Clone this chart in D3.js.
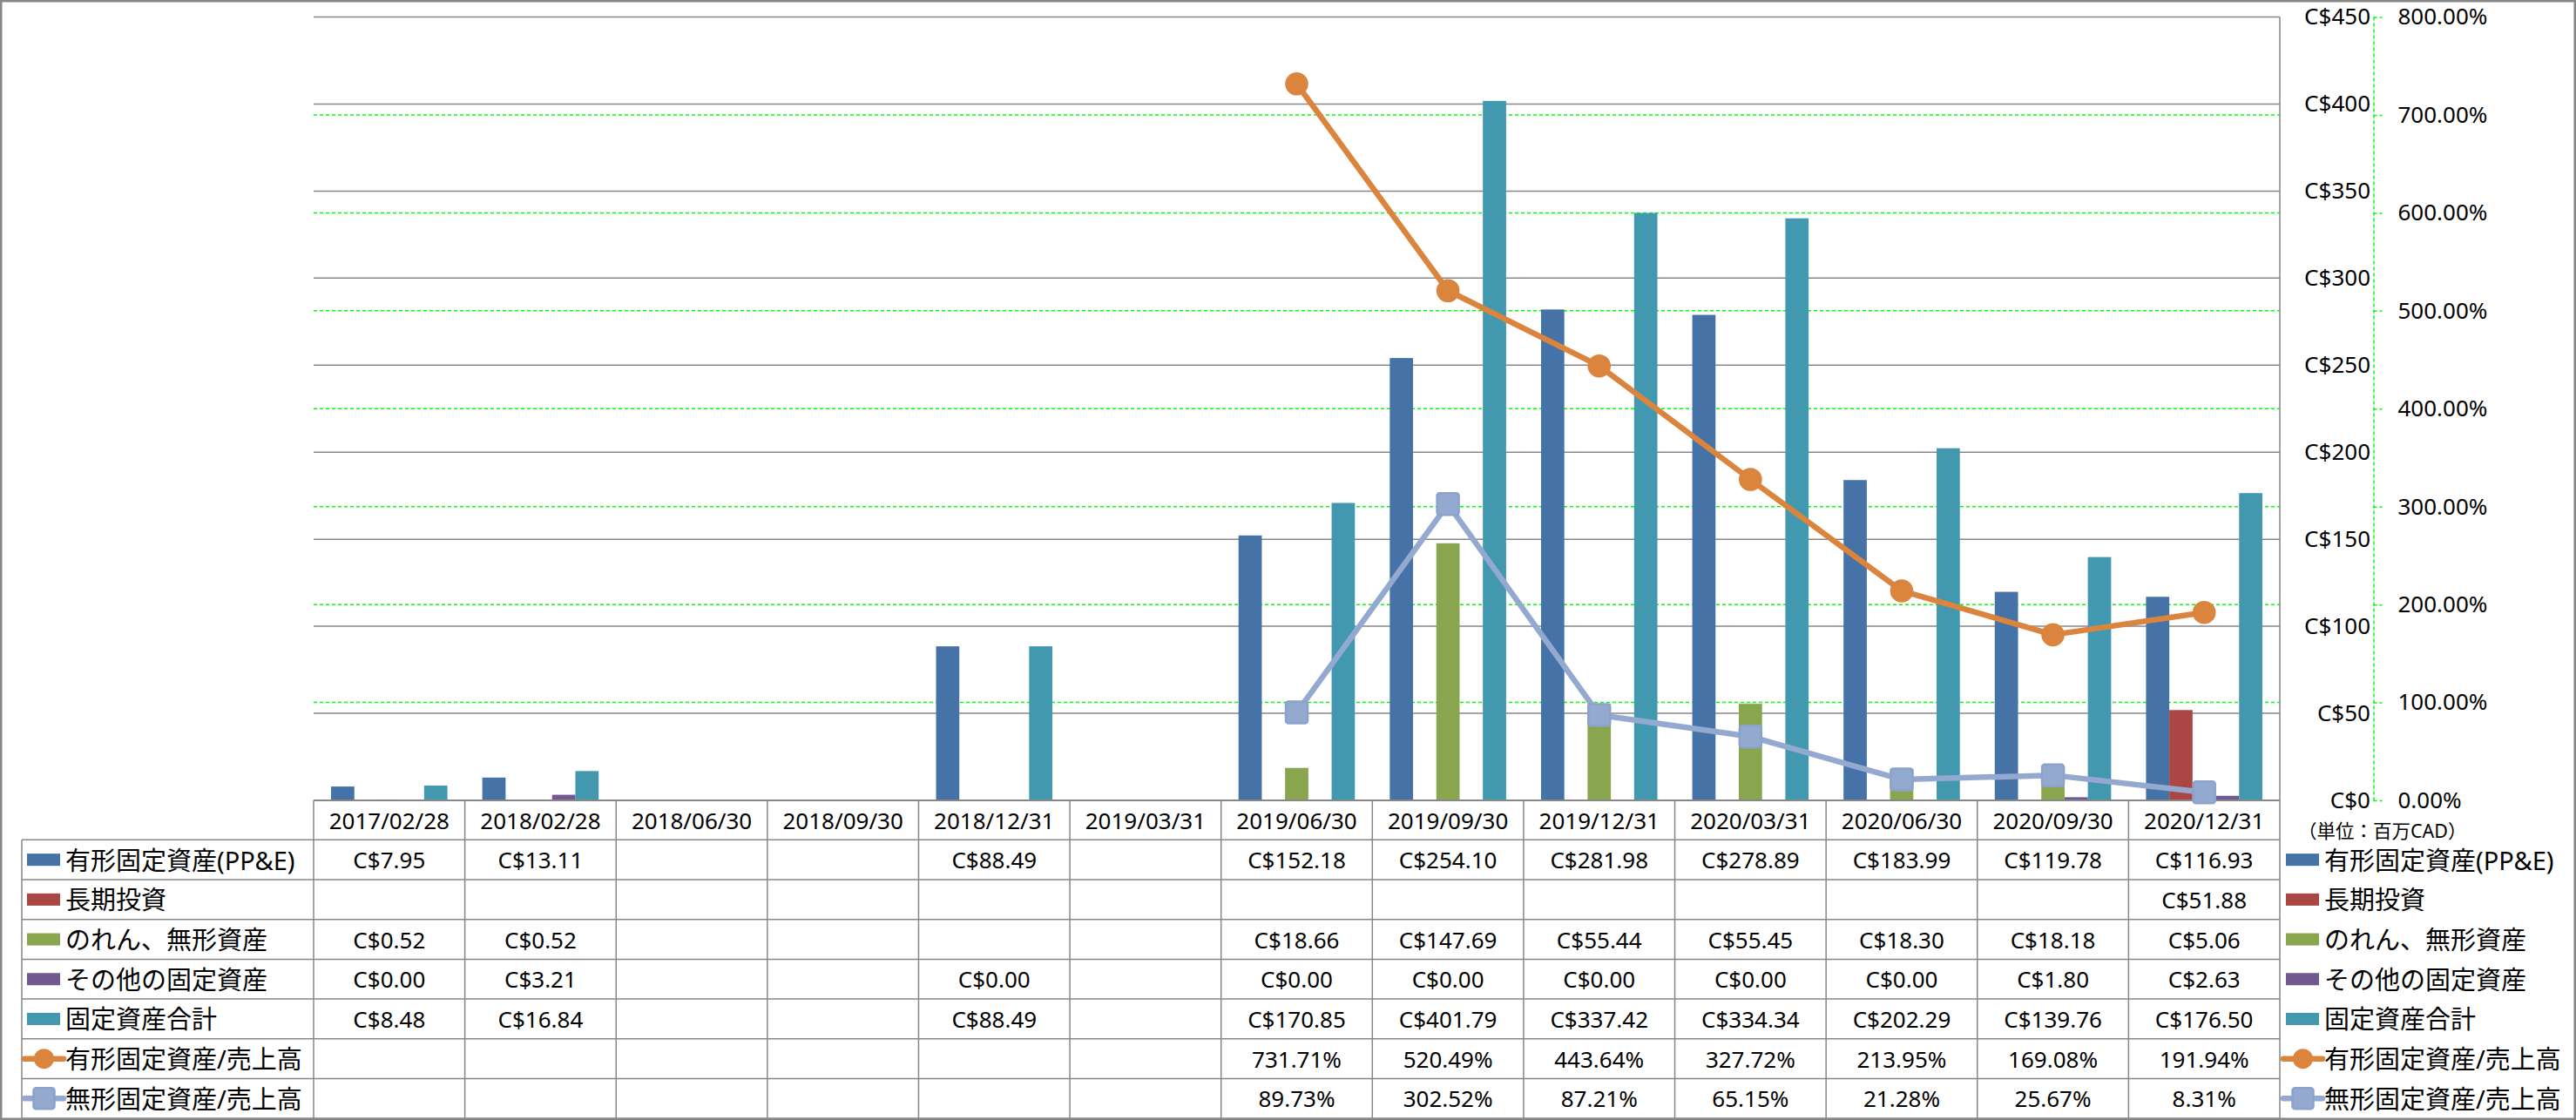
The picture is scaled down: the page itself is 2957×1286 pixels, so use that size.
<!DOCTYPE html>
<html><head><meta charset="utf-8">
<script src="https://cdn.jsdelivr.net/npm/d3@7"></script>
<style>
body{margin:0;background:#fff}
text{font-family:"Noto Sans","Noto Sans CJK JP",sans-serif;fill:#000}
</style>
</head><body>
<svg id="c" width="2957" height="1286"></svg>
<script>
// ---- data ----
const categories = ["2017/02/28","2018/02/28","2018/06/30","2018/09/30","2018/12/31","2019/03/31","2019/06/30","2019/09/30","2019/12/31","2020/03/31","2020/06/30","2020/09/30","2020/12/31"];
const ppe        = [7.95, 13.11, null, null, 88.49, null, 152.18, 254.10, 281.98, 278.89, 183.99, 119.78, 116.93];
const ltInvest   = [null, null, null, null, null, null, null, null, null, null, null, null, 51.88];
const goodwill   = [0.52, 0.52, null, null, null, null, 18.66, 147.69, 55.44, 55.45, 18.30, 18.18, 5.06];
const otherFixed = [0.00, 3.21, null, null, 0.00, null, 0.00, 0.00, 0.00, 0.00, 0.00, 1.80, 2.63];
const totalFixed = [8.48, 16.84, null, null, 88.49, null, 170.85, 401.79, 337.42, 334.34, 202.29, 139.76, 176.50];
const ppeRatio        = [null, null, null, null, null, null, 731.71, 520.49, 443.64, 327.72, 213.95, 169.08, 191.94];
const intangibleRatio = [null, null, null, null, null, null, 89.73, 302.52, 87.21, 65.15, 21.28, 25.67, 8.31];
const barNames  = ["有形固定資産(PP&E)","長期投資","のれん、無形資産","その他の固定資産","固定資産合計"];
const lineNames = ["有形固定資産/売上高","無形固定資産/売上高"];
const leftTicks  = [0,50,100,150,200,250,300,350,400,450];
const rightTicks = [0,100,200,300,400,500,600,700,800];
const unitLabel = "（単位：百万CAD）";

// ---- style ----
const barColors  = ["#4572A7","#AA4643","#89A54E","#71588F","#4198AF"];
const lineColors = ["#DB843D","#93A9CF"];
const gridGray = "#878787";
const green = "#00FF00";

const barSeries = [ppe, ltInvest, goodwill, otherFixed, totalFixed];
const lineSeries = [ppeRatio, intangibleRatio];

const svg = d3.select("#c");
const W = 2957, H = 1286;
const plotL = 360, plotR = 2617, plotT = 19.5, plotB = 919;

const x = d3.scaleBand().domain(categories).range([plotL, plotR]);
const bw = x.bandwidth();
const gw = bw / 1.3;
const x1 = d3.scaleBand().domain(d3.range(barSeries.length)).range([(bw - gw) / 2, (bw + gw) / 2]);
const y = d3.scaleLinear().domain([0, 450]).range([plotB, plotT]);
const y2 = d3.scaleLinear().domain([0, 800]).range([plotB, plotT]);

// outer border
svg.append("rect").attr("x",1.25).attr("y",1.25).attr("width",W-2.5).attr("height",H-2.5)
  .attr("fill","none").attr("stroke",gridGray).attr("stroke-width",2.5);

// green dashed secondary gridlines
svg.append("g").selectAll("line").data(rightTicks.filter(t=>t>0 && t<800)).join("line")
  .attr("x1",plotL).attr("x2",plotR).attr("y1",d=>y2(d)).attr("y2",d=>y2(d))
  .attr("stroke",green).attr("stroke-width",1.5).attr("stroke-dasharray","4,3");

// gray primary gridlines
svg.append("g").selectAll("line").data(leftTicks.filter(t=>t>0)).join("line")
  .attr("x1",plotL).attr("x2",plotR).attr("y1",d=>y(d)).attr("y2",d=>y(d))
  .attr("stroke",gridGray).attr("stroke-width",1.5);

// bars
barSeries.forEach((vals, s) => {
  svg.append("g").selectAll("rect")
    .data(vals.map((v,i)=>({v, c:categories[i]})).filter(d=>d.v!=null && d.v>0))
    .join("rect")
    .attr("x", d => x(d.c) + x1(s))
    .attr("width", x1.bandwidth())
    .attr("y", d => y(d.v))
    .attr("height", d => plotB - y(d.v))
    .attr("fill", barColors[s]);
});

// category axis line & right edge
svg.append("line").attr("x1",plotL).attr("x2",plotR).attr("y1",plotB).attr("y2",plotB)
  .attr("stroke",gridGray).attr("stroke-width",2);
svg.append("line").attr("x1",plotR).attr("x2",plotR).attr("y1",plotT).attr("y2",1284)
  .attr("stroke",gridGray).attr("stroke-width",1.5);

// lines
const cx = i => x(categories[i]) + bw / 2;
lineSeries.forEach((vals, s) => {
  const pts = vals.map((v,i)=>({v,i}));
  const line = d3.line().defined(d=>d.v!=null).x(d=>cx(d.i)).y(d=>y2(d.v));
  svg.append("path").datum(pts).attr("d", line).attr("fill","none")
    .attr("stroke", lineColors[s]).attr("stroke-width", 6.5).attr("stroke-linejoin","round");
  const g = svg.append("g");
  const dp = pts.filter(d=>d.v!=null);
  if (s === 0) {
    g.selectAll("circle").data(dp).join("circle")
      .attr("cx",d=>cx(d.i)).attr("cy",d=>y2(d.v)).attr("r",13.3).attr("fill",lineColors[s]);
  } else {
    g.selectAll("rect").data(dp).join("rect")
      .attr("x",d=>cx(d.i)-12.5).attr("y",d=>y2(d.v)-12.5).attr("width",25).attr("height",25)
      .attr("rx",3).attr("fill",lineColors[s]).attr("stroke","#8BA3CB").attr("stroke-width",2.5);
  }
});

// left (primary) axis labels drawn on the right side
const ga = svg.append("g").attr("transform","translate(2721,0)")
  .call(d3.axisLeft(y).tickValues(leftTicks).tickSize(0).tickPadding(0).tickFormat(d=>"C$"+d));
ga.select(".domain").remove();
ga.selectAll("text").attr("font-size",26).attr("font-family",null).style("fill","#000");

// secondary axis
const gb = svg.append("g").attr("transform","translate(2724.5,0)")
  .call(d3.axisRight(y2).tickValues(rightTicks).tickSizeInner(10).tickSizeOuter(0).tickPadding(18)
    .tickFormat(d=>d.toFixed(2)+"%"));
gb.select(".domain").attr("stroke",green).attr("stroke-width",1.5).attr("stroke-dasharray","4,3");
gb.selectAll(".tick line").attr("stroke",green).attr("stroke-width",1.5).attr("stroke-dasharray","4,3");
gb.selectAll("text").attr("font-size",26).attr("font-family",null).style("fill","#000");

// unit label
svg.append("text").attr("x",2638).attr("y",953).attr("dominant-baseline","central")
  .attr("font-size",21.5).text(unitLabel);

// ---- data table ----
const rowTop = 964.3, rowH = 45.7, nRows = 7, tblL = 25, tblB = rowTop + nRows*rowH;
const tg = svg.append("g");
// category header labels via axis
const gx = svg.append("g").attr("transform",`translate(0,${plotB})`)
  .call(d3.axisBottom(x).tickSize(0).tickPadding(0));
gx.select(".domain").remove();
gx.selectAll("text").attr("font-size",26).attr("font-family",null).attr("dy",null)
  .attr("y",(rowTop-plotB)/2).attr("dominant-baseline","central").style("fill","#000");

// horizontal lines
for (let k=0;k<=nRows;k++){
  tg.append("line").attr("x1",tblL).attr("x2",plotR).attr("y1",rowTop+k*rowH).attr("y2",rowTop+k*rowH)
    .attr("stroke",gridGray).attr("stroke-width",1.5);
}
// vertical lines
tg.append("line").attr("x1",tblL).attr("x2",tblL).attr("y1",rowTop).attr("y2",tblB)
  .attr("stroke",gridGray).attr("stroke-width",1.5);
categories.forEach(c=>{
  tg.append("line").attr("x1",x(c)).attr("x2",x(c)).attr("y1",plotB).attr("y2",tblB)
    .attr("stroke",gridGray).attr("stroke-width",1.5);
});

const allRows = [...barSeries, ...lineSeries];
const allNames = [...barNames, ...lineNames];
allRows.forEach((vals, r) => {
  const cy = rowTop + r*rowH + rowH/2;
  tg.append("g").selectAll("text").data(vals.map((v,i)=>({v,i})).filter(d=>d.v!=null)).join("text")
    .attr("x", d=>cx(d.i)).attr("y", cy).attr("text-anchor","middle").attr("dominant-baseline","central")
    .attr("font-size",26)
    .text(d => r < 5 ? "C$" + d.v.toFixed(2) : d.v.toFixed(2) + "%");
});

// legend keys (left in table and right of chart)
function legendKey(g, x0, cy, r) {
  if (r < 5) {
    g.append("rect").attr("x",x0).attr("y",cy-7).attr("width",38).attr("height",14).attr("fill",barColors[r]);
  } else {
    const c = lineColors[r-5];
    g.append("line").attr("x1",x0-3).attr("x2",x0+42).attr("y1",cy).attr("y2",cy)
      .attr("stroke",c).attr("stroke-width",6.5).attr("stroke-linecap","round");
    if (r === 5) g.append("circle").attr("cx",x0+19.5).attr("cy",cy).attr("r",11.5).attr("fill",c);
    else g.append("rect").attr("x",x0+7.5).attr("y",cy-12).attr("width",24).attr("height",24).attr("rx",3)
      .attr("fill",c).attr("stroke","#8BA3CB").attr("stroke-width",2.5);
  }
}
allNames.forEach((name, r) => {
  const cy = rowTop + r*rowH + rowH/2;
  const gl = svg.append("g");
  legendKey(gl, 31, cy, r);
  gl.append("text").attr("x",75).attr("y",cy).attr("dominant-baseline","central").attr("font-size",29).text(name);
  const gr = svg.append("g");
  legendKey(gr, 2624, cy, r);
  gr.append("text").attr("x",2668).attr("y",cy).attr("dominant-baseline","central").attr("font-size",29).text(name);
});
</script>
</body></html>
